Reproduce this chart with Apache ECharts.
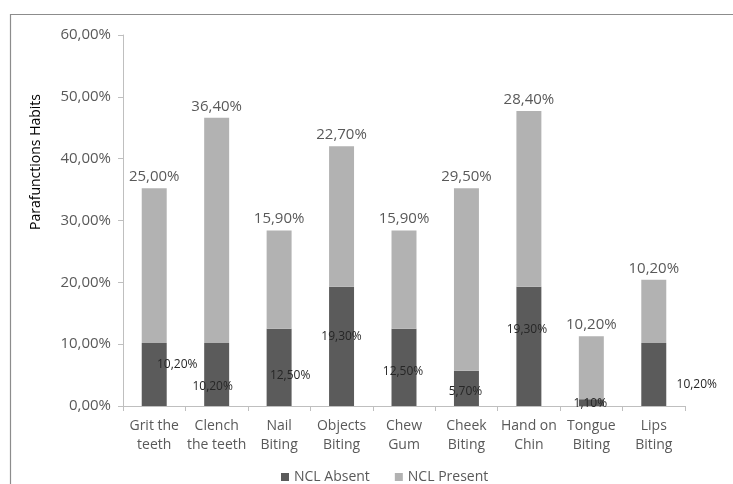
<!DOCTYPE html>
<html>
<head>
<meta charset="utf-8">
<script src="https://cdn.jsdelivr.net/npm/echarts@6/dist/echarts.min.js"></script>
<style>
html,body{margin:0;padding:0;background:#fff;}
#chart{width:733px;height:484px;}
</style>
</head>
<body>
<div id="chart"></div>
<script>
var categories = ["Grit the\nteeth", "Clench\nthe teeth", "Nail\nBiting", "Objects\nBiting", "Chew\nGum", "Cheek\nBiting", "Hand on\nChin", "Tongue\nBiting", "Lips\nBiting"];
var nclAbsent = [10.2, 10.2, 12.5, 19.3, 12.5, 5.7, 19.3, 1.1, 10.2];
var nclPresent = [25.0, 36.4, 15.9, 22.7, 15.9, 29.5, 28.4, 10.2, 10.2];
var yTicks = [0, 10, 20, 30, 40, 50, 60];

// label offsets (style only) for the NCL Absent value labels, as in the original
var absentLabelOffsets = [[23, -10], [-4, 12], [11, 8], [0, -10], [-1, 4], [-1, 3], [-2, -17], [-1, 1], [43, 10]];

function fmt(v) { return v.toFixed(2).replace('.', ',') + '%'; }

var FONT = '"Open Sans", "DejaVu Sans", sans-serif';
var chart = echarts.init(document.getElementById('chart'), null, {renderer: 'canvas'});

var option = {
  backgroundColor: '#ffffff',
  animation: false,
  textStyle: {fontFamily: FONT},
  graphic: [
    {type: 'rect', shape: {x: 10.5, y: 14.5, width: 900, height: 600}, style: {fill: 'none', stroke: '#8c8c8c', lineWidth: 1.2}, silent: true},
    {type: 'text', x: 36, y: 162, rotation: Math.PI / 2, style: {text: 'Parafunctions Habits', fill: '#000000', font: '14px ' + FONT, textAlign: 'center', textVerticalAlign: 'middle'}}
  ],
  legend: {
    top: 465,
    left: 276,
    icon: 'rect',
    itemWidth: 8,
    itemHeight: 8,
    itemGap: 25,
    textStyle: {color: '#595959', fontSize: 14, fontFamily: FONT},
    data: ['NCL Absent', 'NCL Present']
  },
  grid: {left: 123, right: 48, top: 35, bottom: 78, containLabel: false},
  xAxis: {
    type: 'category',
    data: categories,
    axisLine: {lineStyle: {color: '#bfbfbf'}},
    axisTick: {show: true, length: 5, lineStyle: {color: '#bfbfbf'}},
    axisLabel: {color: '#595959', fontSize: 14, lineHeight: 19, margin: 11, interval: 0, fontFamily: FONT}
  },
  yAxis: {
    type: 'value',
    min: yTicks[0],
    max: yTicks[yTicks.length - 1],
    interval: 10,
    axisLine: {show: true, lineStyle: {color: '#bfbfbf'}},
    axisTick: {show: true, length: 5, lineStyle: {color: '#bfbfbf'}},
    splitLine: {show: false},
    axisLabel: {color: '#595959', fontSize: 15, margin: 12, fontFamily: FONT, formatter: function (v) { return fmt(v); }}
  },
  series: [
    {
      name: 'NCL Absent',
      type: 'bar',
      stack: 'total',
      barWidth: '40%',
      itemStyle: {color: '#5b5b5b'},
      data: nclAbsent.map(function (v, i) {
        return {value: v, label: {offset: absentLabelOffsets[i]}};
      }),
      label: {
        show: true,
        position: 'inside',
        color: '#262626',
        fontSize: 12,
        fontFamily: FONT,
        formatter: function (p) { return fmt(p.value); }
      }
    },
    {
      name: 'NCL Present',
      type: 'bar',
      stack: 'total',
      barWidth: '40%',
      itemStyle: {color: '#b2b2b2'},
      data: nclPresent,
      label: {
        show: true,
        position: 'top',
        distance: 4,
        color: '#595959',
        fontSize: 15,
        fontFamily: FONT,
        formatter: function (p) { return fmt(p.value); }
      }
    }
  ]
};
chart.setOption(option);
</script>
</body>
</html>
